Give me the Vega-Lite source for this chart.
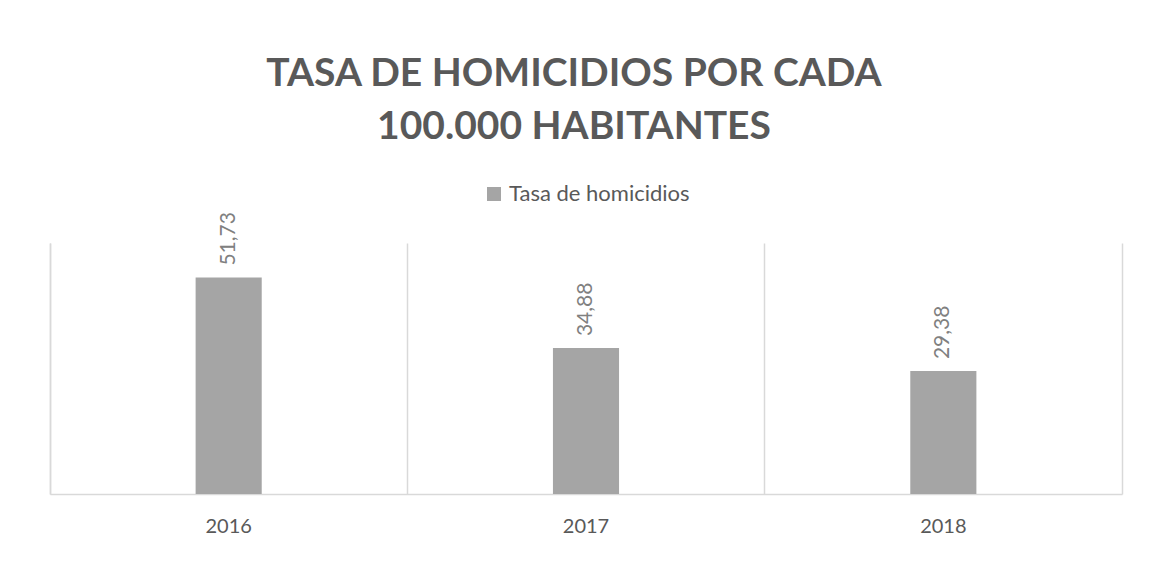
{
  "$schema": "https://vega.github.io/schema/vega-lite/v6.json",
  "width": 1072,
  "height": 251,
  "autosize": {"type": "none"},
  "padding": {"left": 50, "top": 243, "right": 29, "bottom": 67},
  "background": "white",
  "config": {
    "locale": {"number": {"decimal": ",", "thousands": ".", "grouping": [3], "currency": ["", ""]}},
    "view": {"stroke": null},
    "font": "Lato"
  },
  "title": {
    "text": ["TASA DE HOMICIDIOS POR CADA", "100.000 HABITANTES"],
    "font": "Lato",
    "fontSize": 39,
    "fontWeight": "bold",
    "color": "#595959",
    "lineHeight": 53,
    "anchor": "middle",
    "dx": -12,
    "offset": 36
  },
  "data": {
    "values": [
      {"year": "2016", "serie": "Tasa de homicidios", "tasa": 51.73},
      {"year": "2017", "serie": "Tasa de homicidios", "tasa": 34.88},
      {"year": "2018", "serie": "Tasa de homicidios", "tasa": 29.38}
    ]
  },
  "layer": [
    {
      "mark": {"type": "bar", "width": {"band": 0.185}},
      "encoding": {
        "x": {
          "field": "year",
          "type": "nominal",
          "scale": {"paddingInner": 0, "paddingOuter": 0},
          "axis": {
            "title": null,
            "labelAngle": 0,
            "ticks": false,
            "grid": false,
            "domainColor": "#d9d9d9",
            "domainWidth": 1.5,
            "labelFontSize": 20,
            "labelColor": "#595959",
            "labelPadding": 22
          }
        },
        "y": {
          "field": "tasa",
          "type": "quantitative",
          "scale": {"domain": [0, 60]},
          "axis": {
            "orient": "left",
            "title": null,
            "labels": false,
            "ticks": false,
            "grid": false,
            "domainColor": "#d9d9d9",
            "domainWidth": 1.5
          }
        },
        "color": {
          "field": "serie",
          "type": "nominal",
          "scale": {"range": ["#a5a5a5"]},
          "legend": {
            "title": null,
            "orient": "none",
            "legendX": 433,
            "legendY": -60,
            "direction": "horizontal",
            "symbolType": "square",
            "symbolSize": 196,
            "symbolStrokeWidth": 0,
            "labelFontSize": 22,
            "labelLimit": 400,
            "labelColor": "#595959",
            "labelFont": "Lato"
          }
        }
      }
    },
    {
      "mark": {"type": "text", "angle": 270, "align": "left", "baseline": "middle", "dx": 12, "fontSize": 21, "color": "#808080"},
      "encoding": {
        "x": {
          "field": "year",
          "type": "nominal",
          "axis": {
            "orient": "top",
            "title": null,
            "labels": false,
            "ticks": false,
            "domain": false,
            "grid": true,
            "gridColor": "#d9d9d9",
            "gridWidth": 1.5,
            "bandPosition": 0
          }
        },
        "y": {
          "field": "tasa",
          "type": "quantitative",
          "axis": {
            "orient": "right",
            "title": null,
            "labels": false,
            "ticks": false,
            "grid": false,
            "domainColor": "#d9d9d9",
            "domainWidth": 1.5
          }
        },
        "text": {"field": "tasa", "type": "quantitative", "format": ".2f"}
      }
    }
  ],
  "resolve": {"axis": {"x": "independent", "y": "independent"}}
}
